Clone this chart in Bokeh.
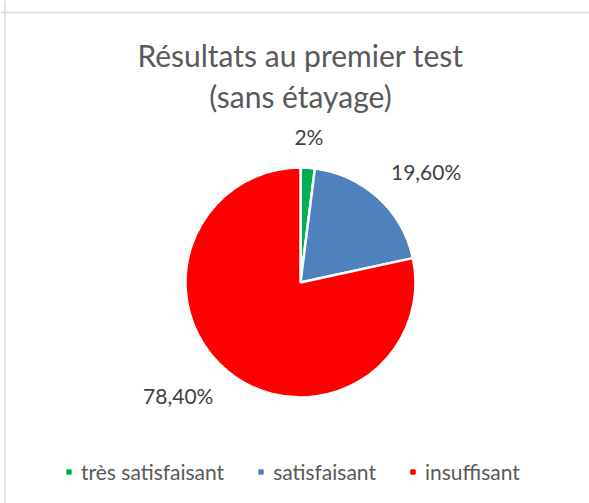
import math
from bokeh.plotting import figure
from bokeh.models import Label, Legend, LegendItem, Span
from bokeh.embed import file_html
from bokeh.resources import INLINE

categories = ["très satisfaisant", "satisfaisant", "insuffisant"]
values = [2.0, 19.6, 78.4]
value_labels = ["2%", "19,60%", "78,40%"]
colors = ["#00B050", "#4F81BD", "#FF0000"]
title_lines = ["Résultats au premier test", "(sans étayage)"]

W, H = 589, 503
FONT = "Lato"

p = figure(width=W, height=H, x_range=(0, W), y_range=(0, H),
           output_backend="svg", toolbar_location=None, min_border=0)
p.axis.visible = False
p.xgrid.visible = False
p.ygrid.visible = False
p.outline_line_color = None
p.background_fill_color = "white"
p.border_fill_color = "white"

cx, cy, R = 300, 221, 115
total = sum(values)
starts, ends, mids = [], [], []
cum = 0.0
for v in values:
    a0 = math.pi / 2 - cum / total * 2 * math.pi
    cum += v
    a1 = math.pi / 2 - cum / total * 2 * math.pi
    starts.append(a0)
    ends.append(a1)
    mids.append((a0 + a1) / 2)

for i in range(len(values)):
    p.wedge(x=cx, y=cy, radius=R, start_angle=starts[i], end_angle=ends[i],
            direction="clock", fill_color=colors[i], line_color="white",
            line_width=2.5)

# legend swatches (square markers with no visible point)
nan = float("nan")
swatches = [p.scatter(x=[nan], y=[nan], marker="square", size=8, fill_color=c,
                      line_color=c) for c in colors]

# data labels
LR = 134
for lab, a in zip(value_labels, mids):
    c, s = math.cos(a), math.sin(a)
    align = "left" if c > 0.3 else ("right" if c < -0.3 else "center")
    base = "bottom" if s > 0 else "top"
    dx = -3 if align == "right" else 0
    dy = 4 if base == "top" else 0
    p.add_layout(Label(x=cx + LR * c + dx, y=cy + LR * s + dy, text=lab,
                       text_align=align, text_baseline=base,
                       text_font=FONT, text_font_size="21px",
                       text_color="#404040"))

# title
for k, t in enumerate(title_lines):
    p.add_layout(Label(x=300, y=449 - k * 41, text=t,
                       text_align="center", text_baseline="middle",
                       text_font=FONT, text_font_size="30px",
                       text_color="#595959"))

# chart border (top and left visible)
p.add_layout(Span(location=491, dimension="width", line_color="#D9D9D9", line_width=1.5))
p.add_layout(Span(location=4.5, dimension="height", line_color="#D9D9D9", line_width=1.5))

legend = Legend(items=[LegendItem(label=c, renderers=[r]) for c, r in zip(categories, swatches)],
                orientation="horizontal", location=(63, 19),
                glyph_width=11, glyph_height=11, label_standoff=7, spacing=31,
                label_text_font=FONT, label_text_font_size="21px",
                label_text_color="#595959", border_line_color=None,
                background_fill_alpha=0, padding=0, margin=0)
p.add_layout(legend)

open("out.html", "w").write(file_html(p, INLINE))
